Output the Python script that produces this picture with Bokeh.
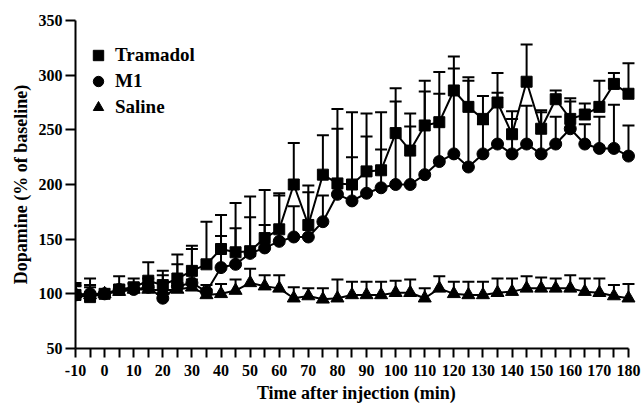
from bokeh.plotting import figure
from bokeh.models import Legend, LegendItem, FixedTicker, Range1d, ColumnDataSource
from bokeh.embed import file_html
from bokeh.resources import INLINE

# ---- data ----
time_min = [-10, -5, 0, 5, 10, 15, 20, 25, 30, 35, 40, 45, 50, 55, 60, 65, 70, 75, 80, 85,
            90, 95, 100, 105, 110, 115, 120, 125, 130, 135, 140, 145, 150, 155, 160, 165, 170, 175, 180]

tramadol_mean = [99, 97, 100, 104, 106, 112, 108, 114, 121, 127, 141, 138, 139, 151, 159, 200, 163, 209, 201, 200,
                 212, 213, 247, 231, 254, 257, 286, 271, 260, 275, 246, 294, 251, 278, 260, 264, 271, 292, 283]
tramadol_upper = [110, 114, 102, 116, 114, 129, 121, 136, 144, 166, 172, 183, 189, 195, 192, 238, 199, 245, 269, 266,
                  265, 266, 288, 265, 295, 303, 317, 298, 281, 302, 267, 328, 268, 286, 279, 274, 295, 302, 311]

m1_mean = [99, 100, 100, 104, 104, 106, 96, 107, 110, 102, 124, 127, 137, 142, 148, 152, 152, 166, 191, 185,
           192, 197, 200, 200, 209, 221, 228, 216, 228, 237, 228, 237, 228, 237, 251, 237, 233, 233, 226]
m1_upper = [107, 108, 101, 108, 110, 114, 117, 127, 141, 108, 153, 160, 170, 163, 190, 180, 193, 190, 251, 225,
            244, 232, 276, 253, 285, 283, 306, 295, 255, 284, 260, 272, 266, 262, 276, 255, 262, 273, 254]

saline_mean = [100, 99, 100, 102, 104, 104, 103, 104, 106, 99, 100, 103, 110, 107, 105, 96, 98, 95, 96, 99,
               99, 99, 101, 101, 96, 105, 100, 99, 99, 101, 102, 105, 105, 105, 105, 102, 101, 98, 96]
saline_upper = [108, 106, 101, 107, 109, 110, 111, 110, 113, 104, 109, 113, 123, 117, 117, 106, 105, 105, 113, 111,
                111, 111, 112, 113, 105, 116, 111, 111, 111, 114, 114, 116, 115, 114, 117, 114, 114, 108, 109]

series_names = ["Tramadol", "M1", "Saline"]
x_ticks = list(range(-10, 181, 10))
x_minor_ticks = list(range(-5, 180, 10))
y_ticks = [50, 100, 150, 200, 250, 300, 350]

FONT = "Liberation Serif"

p = figure(frame_width=562, frame_height=328,
           x_range=Range1d(-10, 183.1), y_range=Range1d(50, 350),
           output_backend="svg", toolbar_location=None,
           min_border_left=75, min_border_top=20, min_border_right=4, min_border_bottom=57)
p.outline_line_color = None
p.xgrid.grid_line_color = None
p.ygrid.grid_line_color = None
p.background_fill_color = "white"
p.border_fill_color = "white"

markers = ["square", "circle", "triangle"]
sizes = [11, 12, 13]
means = [tramadol_mean, m1_mean, saline_mean]
uppers = [tramadol_upper, m1_upper, saline_upper]

sources = [ColumnDataSource(dict(t=time_min, mean=m, up=u)) for m, u in zip(means, uppers)]

# error bars first
for src in sources:
    p.segment(x0="t", y0="mean", x1="t", y1="up", source=src, line_color="black", line_width=2)
    p.scatter(x="t", y="up", source=src, marker="dash", size=12, line_color="black", line_width=2)

# lines
for src in sources:
    p.line(x="t", y="mean", source=src, line_color="black", line_width=2)

marker_renderers = []
for src, mk, sz in zip(sources, markers, sizes):
    r = p.scatter(x="t", y="mean", source=src, marker=mk, size=sz,
                  fill_color="black", line_color="black")
    marker_renderers.append(r)

legend = Legend(items=[LegendItem(label=n, renderers=[r]) for n, r in zip(series_names, marker_renderers)],
                location=(9, 228), glyph_width=28, glyph_height=26, label_height=26, spacing=0,
                padding=0, margin=0, border_line_color=None, background_fill_alpha=0,
                label_text_font=FONT, label_text_font_style="bold", label_text_font_size="19px",
                label_text_color="black", label_standoff=3)
p.add_layout(legend)

# axes
xa = p.xaxis[0]
xa.ticker = FixedTicker(ticks=x_ticks, minor_ticks=x_minor_ticks)
xa.bounds = (-10, 180)
xa.major_label_overrides = {t: str(t) for t in x_ticks}
ya = p.yaxis[0]
ya.ticker = FixedTicker(ticks=y_ticks, minor_ticks=[])

for ax in (xa, ya):
    ax.axis_line_width = 2
    ax.axis_line_color = "black"
    ax.major_tick_line_width = 2
    ax.minor_tick_line_width = 2
    ax.major_tick_line_color = "black"
    ax.minor_tick_line_color = "black"
    ax.major_tick_in = 0
    ax.minor_tick_in = 0
    ax.major_label_text_font = FONT
    ax.major_label_text_font_style = "bold"
    ax.major_label_text_font_size = "16px"
    ax.major_label_text_color = "black"
    ax.axis_label_text_font = FONT
    ax.axis_label_text_font_style = "bold"
    ax.axis_label_text_font_size = "18px"
    ax.axis_label_text_color = "black"

xa.major_tick_out = 9
xa.minor_tick_out = 9
xa.major_label_standoff = 7
xa.axis_label = "Time after injection (min)"
xa.axis_label_standoff = 4

ya.major_tick_out = 10
ya.minor_tick_out = 0
ya.major_label_standoff = 3
ya.axis_label = "Dopamine (% of baseline)"
ya.axis_label_standoff = 5

open("out.html", "w").write(file_html(p, INLINE))
